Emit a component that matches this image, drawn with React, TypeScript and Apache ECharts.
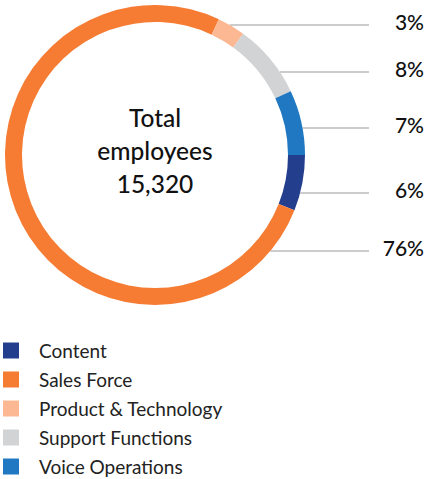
import React, { useEffect, useRef } from "react";
import * as echarts from "echarts";

const categories = ["Content", "Sales Force", "Product & Technology", "Support Functions", "Voice Operations"];
const shares = [6, 76, 3, 8, 7];
const colors = ["#243e8e", "#f67b33", "#fbb893", "#d1d3d4", "#1f78c1"];
const totalEmployees = 15320;

// label leader-line heights (layout only)
const labelLineY = [193, 251, 25, 72, 128];

const CX = 155;
const CY = 155;
const R_OUT = 150;
const R_IN = 133;
const LINE_END = 369;
const LABEL_RIGHT = 424;
const FONT = "Lato, 'Noto Sans', sans-serif";

export default function App() {
  const ref = useRef<HTMLDivElement>(null);
  useEffect(() => {
    if (!ref.current) return;
    const chart = echarts.init(ref.current, null, { renderer: "svg" });
    chart.setOption({
      animation: false,
      color: colors,
      legend: {
        orient: "vertical",
        left: 3,
        top: 341,
        padding: 0,
        icon: "rect",
        itemWidth: 16,
        itemHeight: 16,
        itemGap: 10,
        selectedMode: false,
        data: categories,
        textStyle: {
          fontFamily: FONT,
          fontSize: 19,
          color: "#222",
          padding: [0, 0, 0, 15],
        },
      },
      graphic: [
        {
          type: "text",
          x: CX,
          y: CY - 5,
          style: {
            text: `Total\nemployees\n${totalEmployees.toLocaleString("en-US")}`,
            fontFamily: FONT,
            fontSize: 24.5,
            fontWeight: 500,
            lineHeight: 33,
            fill: "#111",
            align: "center",
            verticalAlign: "middle",
          },
        },
      ],
      series: [
        {
          type: "pie",
          center: [CX, CY],
          radius: [R_IN, R_OUT],
          startAngle: 0,
          clockwise: true,
          silent: true,
          avoidLabelOverlap: false,
          data: categories.map((name, i) => ({ name, value: shares[i] })),
          label: {
            show: true,
            position: "outside",
            formatter: (p: any) => `${p.value}%`,
            fontFamily: FONT,
            fontSize: 21,
            fontWeight: 500,
            color: "#111",
          },
          labelLine: {
            show: true,
            lineStyle: { color: "#999", width: 1 },
          },
          labelLayout: (params: any) => {
            const y = labelLineY[params.dataIndex];
            const x0 = CX + Math.sqrt(Math.max(0, R_OUT * R_OUT - (y - CY) * (y - CY)));
            return {
              x: LABEL_RIGHT,
              y: y - 4,
              align: "right",
              verticalAlign: "middle",
              hideOverlap: false,
              labelLinePoints: [
                [x0, y],
                [LINE_END, y],
                [LINE_END, y],
              ],
            };
          },
        },
      ],
    });
    return () => chart.dispose();
  }, []);
  return (
    <div
      ref={ref}
      style={{ position: "fixed", left: 0, top: 0, width: 429, height: 479, background: "#fff" }}
    />
  );
}
